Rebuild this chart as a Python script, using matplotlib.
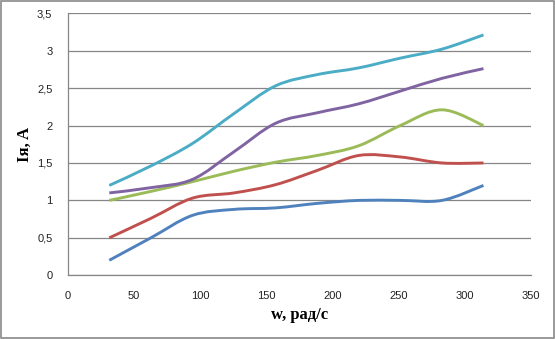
import matplotlib
matplotlib.use("Agg")
import matplotlib.pyplot as plt
from matplotlib.path import Path
from matplotlib.patches import PathPatch, Rectangle

# Angular speed, rad/s
omega = [31.4, 62.8, 94.2, 125.6, 157.0, 188.4, 219.8, 251.2, 282.6, 314.0]

# Armature current, A
i_blue = [0.20, 0.50, 0.80, 0.88, 0.90, 0.96, 1.00, 1.00, 1.00, 1.20]
i_red = [0.50, 0.76, 1.03, 1.10, 1.21, 1.40, 1.60, 1.58, 1.50, 1.50]
i_green = [1.00, 1.12, 1.25, 1.39, 1.51, 1.60, 1.73, 2.00, 2.21, 2.00]
i_purple = [1.10, 1.17, 1.28, 1.65, 2.03, 2.17, 2.29, 2.46, 2.63, 2.76]
i_cyan = [1.20, 1.46, 1.76, 2.16, 2.53, 2.68, 2.77, 2.90, 3.02, 3.21]

x_ticks = [0, 50, 100, 150, 200, 250, 300, 350]
y_ticks = [0, 0.5, 1, 1.5, 2, 2.5, 3, 3.5]
y_tick_labels = ["0", "0,5", "1", "1,5", "2", "2,5", "3", "3,5"]

series = [
    (i_blue, "#4F81BD"),
    (i_red, "#C0504D"),
    (i_green, "#9BBB59"),
    (i_purple, "#8064A2"),
    (i_cyan, "#4BACC6"),
]


def smooth_path(xs, ys):
    """Cubic Bezier spline through the points (Catmull-Rom style smoothing)."""
    pts = list(zip(xs, ys))
    n = len(pts)
    verts = [pts[0]]
    codes = [Path.MOVETO]
    for i in range(n - 1):
        p0 = pts[max(i - 1, 0)]
        p1 = pts[i]
        p2 = pts[i + 1]
        p3 = pts[min(i + 2, n - 1)]
        c1 = (p1[0] + (p2[0] - p0[0]) / 6.0, p1[1] + (p2[1] - p0[1]) / 6.0)
        c2 = (p2[0] - (p3[0] - p1[0]) / 6.0, p2[1] - (p3[1] - p1[1]) / 6.0)
        verts += [c1, c2, p2]
        codes += [Path.CURVE4] * 3
    return Path(verts, codes)


fig = plt.figure(figsize=(5.55, 3.39), dpi=100)
ax = fig.add_axes([0.122, 0.188, 0.835, 0.773])

grid_color = "#868686"
for y in y_ticks:
    ax.axhline(y, color=grid_color, lw=0.9, zorder=1)

for ys, color in series:
    patch = PathPatch(smooth_path(omega, ys), facecolor="none", edgecolor=color,
                      lw=2.1, capstyle="butt", joinstyle="round", zorder=3)
    ax.add_patch(patch)

ax.set_xlim(0, 350)
ax.set_ylim(0, 3.5)
ax.set_xticks(x_ticks)
ax.set_xticklabels([str(v) for v in x_ticks])
ax.set_yticks(y_ticks)
ax.set_yticklabels(y_tick_labels)
ax.tick_params(length=0, labelsize=8, colors="#222222")
ax.tick_params(axis="x", pad=11)
ax.tick_params(axis="y", pad=11)
for lbl in ax.get_xticklabels() + ax.get_yticklabels():
    lbl.set_fontfamily("Liberation Sans")

for side in ("top", "right"):
    ax.spines[side].set_visible(False)
for side in ("left", "bottom"):
    ax.spines[side].set_color(grid_color)
    ax.spines[side].set_linewidth(0.9)

label_font = dict(family="Liberation Serif", weight="bold", size=12)
ax.set_xlabel("w, рад/с", labelpad=5, **label_font)
ax.set_ylabel("Iя, A", labelpad=3, **label_font)

# chart area frame
fig.patches.append(Rectangle((0.001, 0.002), 0.997, 0.995, transform=fig.transFigure,
                             fill=False, edgecolor="#898989", lw=1.2))

fig.savefig("out.png", dpi=100)
